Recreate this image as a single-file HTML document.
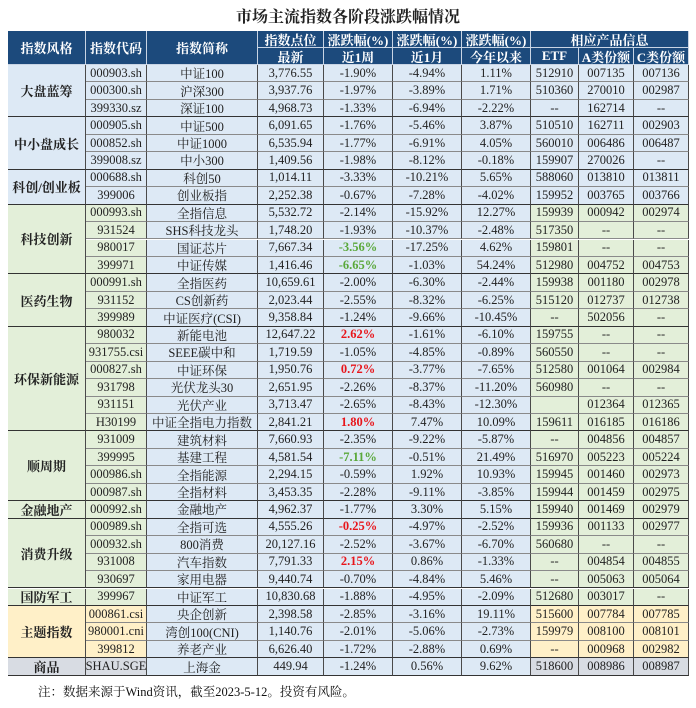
<!DOCTYPE html>
<html><head><meta charset="utf-8">
<style>
body{margin:0;width:696px;height:708px;background:#fff;position:relative;overflow:hidden;font-family:"Liberation Serif","Noto Serif CJK SC",serif;}
.c{position:absolute;box-sizing:border-box;display:flex;align-items:center;justify-content:center;font-size:12.5px;color:#222;white-space:nowrap;border-right:1px solid #4a4a4a;border-bottom:1px solid #8a8a8a;}
.h{background:#1c4a7c;color:#fff;font-weight:bold;font-size:13px;border-right:1px solid #c8d4e4;border-bottom:1px solid #c8d4e4;}
#title{position:absolute;left:0;width:696px;top:4px;text-align:center;font-size:16px;font-weight:bold;color:#222;font-family:"Liberation Serif","Noto Serif CJK SC",serif;}
#note{position:absolute;left:38px;top:682px;font-size:12.5px;color:#111;}
</style></head>
<body>
<div id="title">市场主流指数各阶段涨跌幅情况</div>
<div id="tbl"></div>
<div id="note">注：数据来源于Wind资讯，截至2023-5-12。投资有风险。</div>
<script>
const groups=[["大盘蓝筹",3,"b"],["中小盘成长",3,"b"],["科创/创业板",2,"b"],["科技创新",4,"g"],["医药生物",3,"g"],["环保新能源",6,"g"],["顺周期",4,"g"],["金融地产",1,"g"],["消费升级",4,"g"],["国防军工",1,"g"],["主题指数",3,"y"],["商品",1,"s"]];
const codes=["000903.sh","000300.sh","399330.sz","000905.sh","000852.sh","399008.sz","000688.sh","399006","000993.sh","931524","980017","399971","000991.sh","931152","399989","980032","931755.csi","000827.sh","931798","931151","H30199","931009","399995","000986.sh","000987.sh","000992.sh","000989.sh","000932.sh","931008","930697","399967","000861.csi","980001.cni","399812","SHAU.SGE"];
const names=["中证100","沪深300","深证100","中证500","中证1000","中小300","科创50","创业板指","全指信息","SHS科技龙头","国证芯片","中证传媒","全指医药","CS创新药","中证医疗(CSI)","新能电池","SEEE碳中和","中证环保","光伏龙头30","光伏产业","中证全指电力指数","建筑材料","基建工程","全指能源","全指材料","金融地产","全指可选","800消费","汽车指数","家用电器","中证军工","央企创新","湾创100(CNI)","养老产业","上海金"];
const latest=["3,776.55","3,937.76","4,968.73","6,091.65","6,535.94","1,409.56","1,014.11","2,252.38","5,532.72","1,748.20","7,667.34","1,416.46","10,659.61","2,023.44","9,358.84","12,647.22","1,719.59","1,950.76","2,651.95","3,713.47","2,841.21","7,660.93","4,581.54","2,294.15","3,453.35","4,962.37","4,555.26","20,127.16","7,791.33","9,440.74","10,830.68","2,398.58","1,140.76","6,626.40","449.94"];
const week=["-1.90%","-1.97%","-1.33%","-1.76%","-1.77%","-1.98%","-3.33%","-0.67%","-2.14%","-1.93%","-3.56%","-6.65%","-2.00%","-2.55%","-1.24%","2.62%","-1.05%","0.72%","-2.26%","-2.65%","1.80%","-2.35%","-7.11%","-0.59%","-2.28%","-1.77%","-0.25%","-2.52%","2.15%","-0.70%","-1.88%","-2.85%","-2.01%","-1.72%","-1.24%"];
const weekColor={10:"g",11:"g",15:"r",17:"r",20:"r",22:"g",26:"r",28:"r"};
const month=["-4.94%","-3.89%","-6.94%","-5.46%","-6.91%","-8.12%","-10.21%","-7.28%","-15.92%","-10.37%","-17.25%","-1.03%","-6.30%","-8.32%","-9.66%","-1.61%","-4.85%","-3.77%","-8.37%","-8.43%","7.47%","-9.22%","-0.51%","1.92%","-9.11%","3.30%","-4.97%","-3.67%","0.86%","-4.84%","-4.95%","-3.16%","-5.06%","-2.88%","0.56%"];
const ytd=["1.11%","1.71%","-2.22%","3.87%","4.05%","-0.18%","5.65%","-4.02%","12.27%","-2.48%","4.62%","54.24%","-2.44%","-6.25%","-10.45%","-6.10%","-0.89%","-7.65%","-11.20%","-12.30%","10.09%","-5.87%","21.49%","10.93%","-3.85%","5.15%","-2.52%","-6.70%","-1.33%","5.46%","-2.09%","19.11%","-2.73%","0.69%","9.62%"];
const etf=["512910","510360","--","510510","560010","159907","588060","159952","159939","517350","159801","512980","159938","515120","--","159755","560550","512580","560980","","159611","--","516970","159945","159944","159940","159936","560680","--","--","512680","515600","159979","--","518600"];
const fundA=["007135","270010","162714","162711","006486","270026","013810","003765","000942","--","--","004752","001180","012737","502056","--","--","001064","--","012364","016185","004856","005223","001460","001459","001469","001133","--","004854","005063","003017","007784","008100","000968","008986"];
const fundC=["007136","002987","--","002903","006487","--","013811","003766","002974","--","--","004753","002978","012738","--","--","--","002984","--","012365","016186","004857","005224","002973","002975","002979","002977","--","004855","005064","--","007785","008101","002982","008987"];

const X=[8,86,147,258,324,393,462,531,579,634,689];
const TOP=31,HH=17,Y0=65,RH=17.45;
const bg={b:"#dde9f5",g:"#e3efd9",y:"#fff0c8",s:"#d8dce3"};
const blue="#dde9f5";
const tbl=document.getElementById('tbl');
function cell(x0,x1,y0,y1,txt,cls,name,extra){
  const d=document.createElement('div');
  d.className='c '+(cls||'');
  d.style.left=x0+'px';d.style.width=(x1-x0)+'px';d.style.top=y0+'px';d.style.height=(y1-y0)+'px';
  if(extra)Object.assign(d.style,extra);
  d.textContent=txt;
  
  
  tbl.appendChild(d);return d;
}
// header
cell(X[0],X[1],TOP,Y0,"指数风格","h","header-style");
cell(X[1],X[2],TOP,Y0,"指数代码","h","header-code");
cell(X[2],X[3],TOP,Y0,"指数简称","h","header-name");
cell(X[3],X[4],TOP,TOP+HH,"指数点位","h","header-level");
cell(X[3],X[4],TOP+HH,Y0,"最新","h","header-latest");
cell(X[4],X[5],TOP,TOP+HH,"涨跌幅(%)","h","header-change-week");
cell(X[4],X[5],TOP+HH,Y0,"近1周","h","header-week");
cell(X[5],X[6],TOP,TOP+HH,"涨跌幅(%)","h","header-change-month");
cell(X[5],X[6],TOP+HH,Y0,"近1月","h","header-month");
cell(X[6],X[7],TOP,TOP+HH,"涨跌幅(%)","h","header-change-ytd");
cell(X[6],X[7],TOP+HH,Y0,"今年以来","h","header-ytd");
cell(X[7],X[10],TOP,TOP+HH,"相应产品信息","h","header-products");
cell(X[7],X[8],TOP+HH,Y0,"ETF","h","header-etf");
cell(X[8],X[9],TOP+HH,Y0,"A类份额","h","header-fund-a");
cell(X[9],X[10],TOP+HH,Y0,"C类份额","h","header-fund-c");
// body
let r=0;
groups.forEach(g=>{
  const c=bg[g[2]];
  const ya=Y0+r*RH, yb=Y0+(r+g[1])*RH;
  cell(X[0],X[1],ya,yb,g[0],"","group-label",{background:c,fontWeight:"bold",fontSize:"13px",borderBottom:"1.5px solid #333"});
  for(let k=0;k<g[1];k++){
    const i=r+k,y0=Y0+i*RH,y1=y0+RH;
    const last=k==g[1]-1;
    const bb=last?{borderBottom:"1.5px solid #333"}:{};
    cell(X[1],X[2],y0,y1,codes[i],"","index-code",Object.assign({background:c},bb));
    cell(X[2],X[3],y0,y1,names[i],"","index-name",Object.assign({background:blue},bb));
    cell(X[3],X[4],y0,y1,latest[i],"","latest-level",Object.assign({background:blue},bb));
    const wc=weekColor[i];
    const ws=Object.assign({background:blue},bb);
    if(wc=="r"){ws.color="#e8151b";ws.fontWeight="bold";}
    if(wc=="g"){ws.color="#5aa83a";ws.fontWeight="bold";}
    cell(X[4],X[5],y0,y1,week[i],"","week-change",ws);
    cell(X[5],X[6],y0,y1,month[i],"","month-change",Object.assign({background:blue},bb));
    cell(X[6],X[7],y0,y1,ytd[i],"","ytd-change",Object.assign({background:blue},bb));
    cell(X[7],X[8],y0,y1,etf[i],"","etf-code",Object.assign({background:c},bb));
    cell(X[8],X[9],y0,y1,fundA[i],"","fund-a-code",Object.assign({background:c},bb));
    cell(X[9],X[10],y0,y1,fundC[i],"","fund-c-code",Object.assign({background:c},bb));
  }
  r+=g[1];
});
</script>
</body></html>
